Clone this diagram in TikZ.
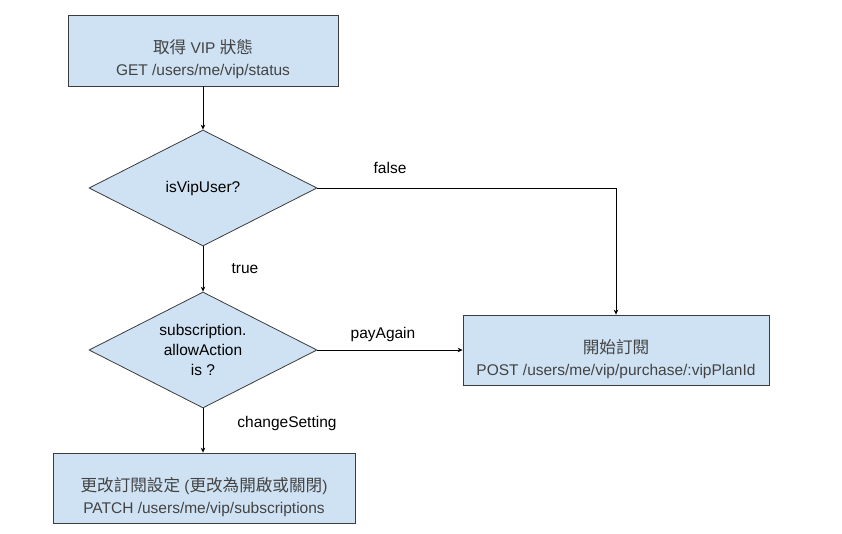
\documentclass[tikz,border=0pt]{standalone}
\usepackage{fontspec}
\setmainfont{Liberation Sans}
\newfontfamily\cjk[Scale=1.07]{Noto Sans CJK TC}
\usetikzlibrary{shapes.geometric,arrows.meta}
\definecolor{boxfill}{HTML}{CFE2F3}
\definecolor{boxline}{HTML}{3C3C3C}
\definecolor{boxtext}{HTML}{434343}
\tikzset{
  procbox/.style={draw=boxline, fill=boxfill, line width=0.8pt, minimum width=#1, minimum height=71pt, inner sep=0pt},
  boxtxt/.style={align=center, text=boxtext, inner sep=0pt, font=\fontsize{15.5}{22.5}\selectfont},
  decision/.style={draw=boxline, fill=boxfill, line width=0.8pt, diamond, minimum width=228pt, minimum height=116pt, inner sep=0pt, aspect=1.97, align=center, text=black, font=\fontsize{15.5}{20}\selectfont},
  conn/.style={draw=black, line width=0.7pt, -{Stealth[length=5pt,width=4.5pt]}},
  elabel/.style={font=\fontsize{15.5}{18}\selectfont, text=black}
}
\begin{document}
\begin{tikzpicture}[x=1pt,y=-1pt]
\useasboundingbox (0,0) rectangle (842,534);
\node[procbox=270pt] (get) at (203,50.5) {};
\node[boxtxt] (gett) at ([yshift=-8.5pt]get.center) {{\cjk 取得} VIP {\cjk 狀態}\\GET /users/me/vip/status};
\node[decision] (d1) at (203,188) {isVipUser?};
\node[decision] (d2) at (203,350) {subscription.\\allowAction\\is ?};
\node[procbox=306pt, minimum height=70pt] (buy) at (616,350) {};
\node[boxtxt] (buyt) at ([yshift=-9pt]buy.center) {{\cjk 開始訂閱}\\POST /users/me/vip/purchase/:vipPlanId};
\node[procbox=302pt, minimum height=70pt] (chg) at (204,488) {};
\node[boxtxt] (chgt) at ([yshift=-9pt]chg.center) {{\cjk 更改訂閱設定} ({\cjk 更改為開啟或關閉})\\PATCH /users/me/vip/subscriptions};
\coordinate (corner) at (616,188);
\draw[conn] (get.south) -- (d1.north);
\draw[conn] (d1.east) -- (corner) -- (buy.north);
\draw[conn] (d1.south) -- (d2.north);
\draw[conn] (d2.east) -- (buy.west);
\draw[conn] (d2.south) -- (chg.north -| d2.south);
\node[elabel] (lfalse) at (390,168) {false};
\node[elabel] (ltrue) at (245,269) {true};
\node[elabel] (lpay) at (383,334) {payAgain};
\node[elabel] (lchg) at (287,423) {changeSetting};
\end{tikzpicture}
\end{document}
